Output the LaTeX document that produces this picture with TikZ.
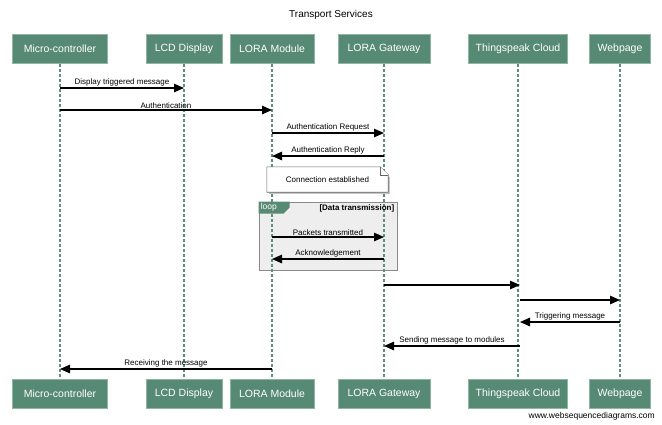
\documentclass[tikz,border=0pt]{standalone}
\usepackage{fontspec}
\setmainfont{Liberation Sans}
\usetikzlibrary{arrows.meta,shadows}
\definecolor{actorfill}{HTML}{578A74}
\definecolor{actorline}{HTML}{8FB5A3}
\definecolor{lifecol}{HTML}{5E8F7A}
\definecolor{loopfill}{HTML}{EEEEEE}
\definecolor{loopline}{HTML}{8A8A8A}
\begin{document}
\begin{tikzpicture}[x=1pt,y=-1pt,
  actor/.style={draw=actorline, fill=actorfill, text=white, font=\fontsize{10.5}{12}\selectfont, minimum height=29pt, inner sep=0pt, line width=0.6pt},
  lifeline/.style={draw=lifecol, line width=1.3pt, dash pattern=on 3pt off 2pt},
  msg/.style={draw=black, line width=1.2pt, -{Triangle[length=10pt,width=8.5pt]}},
  lbl/.style={font=\fontsize{8}{9}\selectfont, above, inner sep=1.2pt},
]
\useasboundingbox (0,0) rectangle (662,424);
\node[font=\fontsize{10}{12}\selectfont] (title) at (331,15) {Transport Services};
% actors top
\node[actor, minimum width=95pt] (mcT) at (60,49) {Micro-controller};
\node[actor, minimum width=76pt] (lcdT) at (184,49) {LCD Display};
\node[actor, minimum width=84pt] (lmT) at (272,49) {LORA Module};
\node[actor, minimum width=92pt] (gwT) at (384,49) {LORA Gateway};
\node[actor, minimum width=99pt] (tsT) at (518,49) {Thingspeak Cloud};
\node[actor, minimum width=61pt] (wpT) at (620,49) {Webpage};
% actors bottom
\node[actor, minimum width=95pt] (mcB) at (60,393.5) {Micro-controller};
\node[actor, minimum width=76pt] (lcdB) at (184,393.5) {LCD Display};
\node[actor, minimum width=84pt] (lmB) at (272,393.5) {LORA Module};
\node[actor, minimum width=92pt] (gwB) at (384,393.5) {LORA Gateway};
\node[actor, minimum width=99pt] (tsB) at (518,393.5) {Thingspeak Cloud};
\node[actor, minimum width=61pt] (wpB) at (620,393.5) {Webpage};
% loop frame (behind lifelines)
\node[draw=loopline, fill=loopfill, line width=0.8pt, minimum width=138pt, minimum height=68pt, inner sep=0pt] (loopbox) at (328,236) {};
% lifelines
\foreach \n in {mc,lcd,lm,gw,ts,wp}{
  \draw[lifeline] (\n T.south) -- (\n B.north);
}
% loop tab over lifelines
\path[fill=actorfill] (loopbox.north west) -- ([xshift=31pt]loopbox.north west) -- ([xshift=31pt,yshift=-6pt]loopbox.north west) -- ([xshift=25pt,yshift=-12pt]loopbox.north west) -- ([yshift=-12pt]loopbox.north west) -- cycle;
\node[text=white, font=\fontsize{8.5}{9}\selectfont, anchor=west, inner sep=0pt] (looplbl) at ([xshift=2pt,yshift=-6pt]loopbox.north west) {loop};
\node[font=\bfseries\fontsize{8}{9}\selectfont, anchor=east, inner sep=0pt] (loopcond) at ([xshift=-3pt,yshift=-6.5pt]loopbox.north east) {[Data transmission]};
% note
\node[minimum width=121pt, minimum height=25pt, inner sep=0pt, font=\fontsize{8}{9}\selectfont] (note) at (327.5,179.5) {Connection established};
\fill[gray!45] ([xshift=2pt,yshift=-2pt]note.south west) rectangle ([xshift=2pt,yshift=-10pt]note.north east);
\draw[fill=white, draw=gray!80!black, line width=0.6pt] (note.south west) -- (note.north west) -- ([xshift=-8pt]note.north east) -- ([yshift=-8pt]note.north east) -- (note.south east) -- cycle;
\draw[fill=white, draw=gray!80!black, line width=0.6pt] ([xshift=-8pt]note.north east) -- ([xshift=-8pt,yshift=-8pt]note.north east) -- ([yshift=-8pt]note.north east);
\node[font=\fontsize{8}{9}\selectfont] (notetext) at (note.center) {Connection established};
% message coordinates
\coordinate (m1a) at (60,88);   \coordinate (m1b) at (184,88);
\coordinate (m2a) at (60,110);  \coordinate (m2b) at (272,110);
\coordinate (m3a) at (272,133); \coordinate (m3b) at (384,133);
\coordinate (m4a) at (384,156); \coordinate (m4b) at (272,156);
\coordinate (m5a) at (272,237); \coordinate (m5b) at (384,237);
\coordinate (m6a) at (384,259); \coordinate (m6b) at (272,259);
\coordinate (m7a) at (384,285); \coordinate (m7b) at (520,285);
\coordinate (m8a) at (520,300); \coordinate (m8b) at (620,300);
\coordinate (m9a) at (620,322); \coordinate (m9b) at (520,322);
\coordinate (m10a) at (520,346); \coordinate (m10b) at (384,346);
\coordinate (m11a) at (272,369); \coordinate (m11b) at (60,369);
\draw[msg] (m1a) -- node[lbl] {Display triggered message} (m1b);
\draw[msg] (m2a) -- node[lbl] {Authentication} (m2b);
\draw[msg] (m3a) -- node[lbl] {Authentication Request} (m3b);
\draw[msg] (m4a) -- node[lbl] {Authentication Reply} (m4b);
\draw[msg] (m5a) -- node[lbl] {Packets transmitted} (m5b);
\draw[msg] (m6a) -- node[lbl] {Acknowledgement} (m6b);
\draw[msg] (m7a) -- (m7b);
\draw[msg] (m8a) -- (m8b);
\draw[msg] (m9a) -- node[lbl] {Triggering message} (m9b);
\draw[msg] (m10a) -- node[lbl] {Sending message to modules} (m10b);
\draw[msg] (m11a) -- node[lbl] {Receiving the message} (m11b);
\node[font=\fontsize{8.5}{10}\selectfont, anchor=east, inner sep=0pt] (wm) at (655,416) {www.websequencediagrams.com};
\end{tikzpicture}
\end{document}
